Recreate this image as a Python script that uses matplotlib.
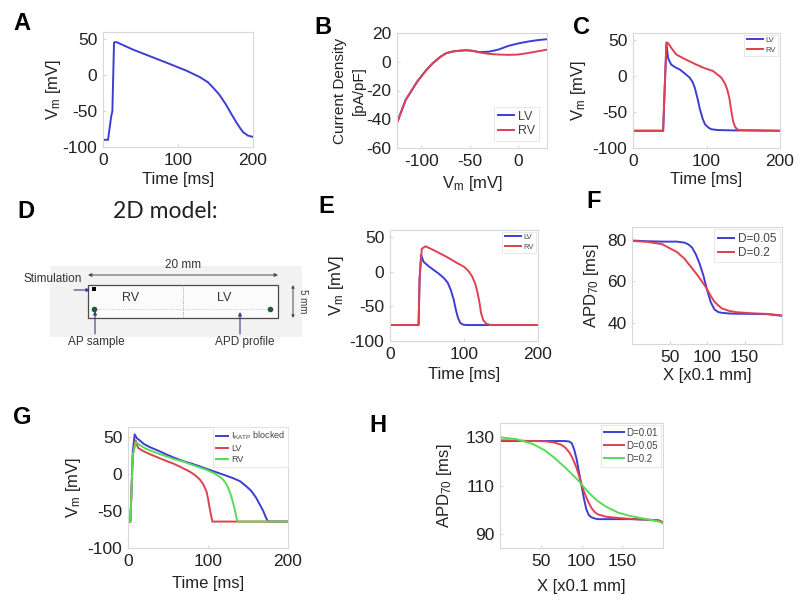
import matplotlib
matplotlib.use("Agg")
import matplotlib.pyplot as plt
from matplotlib.patches import Rectangle

plt.rcParams['font.family'] = ['Liberation Sans', 'DejaVu Sans']
plt.rcParams['mathtext.fontset'] = 'custom'
plt.rcParams['mathtext.rm'] = 'Liberation Sans'
plt.rcParams['mathtext.it'] = 'Liberation Sans:italic'
plt.rcParams['mathtext.bf'] = 'Liberation Sans:bold'
plt.rcParams['axes.unicode_minus'] = False

# ---------------- data ----------------
# A: single action potential
a_t = [0, 6.7, 11, 12.5, 14.7, 17.8, 40, 84, 111, 129, 140, 147, 155, 164, 170, 178, 183, 187, 193, 200]
a_v = [-90, -90, -57, -50, 45.5, 46, 35.5, 17.6, 6.3, -2.7, -10, -17.6, -27, -41, -52, -66, -74, -79.5, -84, -86]

# B: I-V curves
b_v = [-125, -116, -104, -95, -88, -80, -74, -67, -60, -53, -46, -40, -30, -20, -10, 0, 10, 20, 30]
b_lv = [-42.5, -26.5, -13.7, -6, -1, 3.5, 6, 7.2, 7.7, 8, 7.5, 6.7, 7, 8.5, 11, 12.7, 14, 15, 15.7]
b_rv = [-42.5, -26.5, -13.7, -6, -1, 3.5, 6, 7.2, 7.7, 8, 7.5, 6.5, 5.5, 5, 4.8, 5, 6, 7.2, 8.4]

# C: single-cell LV / RV action potentials
c_lv_t = [0, 41, 43, 45.5, 47.7, 52, 58, 64, 70, 77, 81, 84, 88, 91, 95, 98, 103, 107, 115, 136, 200]
c_lv_v = [-76, -76, -20, 45, 25, 16, 12, 9, 4, -2, -8, -16, -32, -46, -60, -67, -72, -74, -75, -75.5, -76]
c_rv_t = [0, 41, 43, 45.5, 47.7, 53, 59, 70, 82, 95, 109, 120, 125, 128, 131, 134, 136, 139, 142, 145, 200]
c_rv_v = [-76, -76, -20, 47, 46, 38, 30, 24, 18, 12, 7, -2, -10, -18, -30, -50, -62, -71, -74, -75, -76]

# E: tissue LV / RV action potentials
e_lv_t = [0, 38.6, 40, 42, 45.5, 52, 59, 66, 73, 78, 82, 86, 89, 92, 95, 99, 104, 200]
e_lv_v = [-77, -77, -10, 24, 14, 8, 2.4, -3, -9.5, -16, -26, -40, -55, -67, -74, -76.5, -77, -77]
e_rv_t = [0, 38.6, 40, 43, 48, 59, 68, 77, 88, 100, 106, 111, 115, 118, 121, 123, 126, 130, 136, 200]
e_rv_v = [-77, -77, -10, 33, 36.5, 31, 26, 21, 14, 7, 1, -7, -17, -28.6, -45, -59.5, -70, -75, -77, -77]

# F: APD70 profile
f_x = [1, 20, 40, 60, 70, 75, 80, 85, 90, 95, 100, 105, 110, 115, 120, 130, 140, 160, 180, 200]
f_d005 = [79.5, 79.2, 79, 79, 78.5, 77.7, 76.2, 73, 68.6, 63, 56, 50, 46.5, 45.3, 44.9, 44.6, 44.5, 44.4, 44.3, 43.5]
f_d02 = [79.3, 78.9, 77.8, 74, 70.8, 68.5, 66.3, 64, 61.6, 59, 56.3, 53, 50.2, 48.5, 47, 45.8, 45.2, 44.7, 44.4, 43.7]
f_labels = ['D=0.05', 'D=0.2']

# G: action potentials with I_KATP block
g_blk_t = [0, 3, 6, 8.3, 11, 14.6, 20, 27, 38, 48, 58, 69, 80, 90, 100, 110, 120, 131, 140, 148, 154, 160, 165, 169, 172, 175, 200]
g_blk_v = [-64.4, -64.4, 30, 53, 48, 45, 40, 36, 31, 26, 21.5, 17, 13.5, 9.8, 6, 2.2, -1.5, -5.8, -10, -17, -23, -32, -42, -50, -58, -64.4, -64.4]
g_lv_t = [0, 3, 6, 9.6, 12.5, 18.8, 27, 35, 45, 56, 66, 77, 84, 90, 94, 98, 100, 102, 104, 105.5, 200]
g_lv_v = [-64.4, -64.4, 25, 45, 35, 30.7, 26.5, 23, 18.5, 14, 9, 3, -2, -8, -14, -23.6, -33, -46, -57, -64.4, -64.4]
g_rv_t = [0, 3, 6, 9.6, 14.6, 22, 31, 45, 57, 69, 83, 98, 108, 114, 119, 123, 127, 130, 133, 135, 136.5, 200]
g_rv_v = [-64.4, -64.4, 25, 43, 38.7, 34, 30, 24.5, 20, 16.4, 11, 5.3, 0.5, -3.5, -8, -14, -23.6, -34, -46, -56, -64.4, -64.4]
g_labels = ['I$_{\\mathrm{KATP}}$ blocked', 'LV', 'RV']

# H: APD70 profile with three diffusion values
h_x = [1, 20, 40, 55, 65, 75, 80, 85, 88, 91, 94, 97, 100, 103, 106, 109, 112, 116, 120, 130, 145, 160, 180, 195, 200]
h_d001 = [128.5, 128.5, 128.5, 128.5, 128.5, 128.5, 128.5, 128.3, 127.6, 125, 121, 115.4, 110, 104.5, 100, 97.7, 96.8, 96.3, 96, 96, 96, 96, 95.8, 95.5, 94.3]
h_d005 = [128.8, 128.7, 128.5, 128.4, 128, 127, 125.8, 123.8, 122, 119.8, 117.2, 114, 110.5, 107.5, 105, 102.7, 100.8, 99, 98, 97, 96.5, 96.1, 95.8, 95.4, 94.8]
h_d02 = [130, 129.3, 127.3, 124.6, 122, 119, 117.5, 115.8, 114.8, 113.8, 112.8, 111.7, 110.5, 109.3, 108.2, 107, 106, 104.7, 103.5, 101.2, 98.7, 97.3, 96, 95, 94.3]
h_labels = ['D=0.01', 'D=0.05', 'D=0.2']

# ---------------- figure ----------------
W, H = 800, 609
BLUE = '#3d3dd6'
RED = '#e0404f'
GREEN = '#55dd55'
BOX = '#d8d8d8'
TXT = '#222222'
LW = 1.4

fig = plt.figure(figsize=(8, 6.09), dpi=100)

# overlay in pixel coordinates for the schematic (panel D)
bg = fig.add_axes([0, 0, 1, 1], zorder=-1)
bg.set_xlim(0, W)
bg.set_ylim(H, 0)
bg.axis('off')


def px_axes(left, top, right, bottom):
    ax = fig.add_axes([left / W, 1 - bottom / H, (right - left) / W, (bottom - top) / H])
    for s in ax.spines.values():
        s.set_color(BOX)
        s.set_linewidth(0.8)
    ax.tick_params(length=2, direction='in', color=BOX, labelsize=12.5,
                   labelcolor=TXT, pad=4)
    ax.box = (left, top, right, bottom)
    return ax


def labels(ax, xlabel, ylabel, ylab_right, xlab_top, ysize=12):
    left, top, right, bottom = ax.box
    ax.set_xlabel(xlabel, fontsize=12, color=TXT)
    ax.set_ylabel(ylabel, fontsize=ysize, color=TXT, linespacing=1.45)
    ax.yaxis.set_label_coords((ylab_right - left) / (right - left), 0.5)
    ax.xaxis.set_label_coords(0.5, -(xlab_top - bottom) / (bottom - top))


def legend(ax, size, pad=0.2, **kw):
    leg = ax.legend(fontsize=size, fancybox=False, framealpha=1, edgecolor='#e4e4e4',
                    borderpad=0.3, handletextpad=0.3, borderaxespad=pad, **kw)
    leg.get_frame().set_linewidth(0.6)
    for t in leg.get_texts():
        t.set_color('#444444')
    return leg


def letter(x, y, s):
    fig.text(x / W, 1 - y / H, s, fontsize=17, fontweight='bold', ha='center', va='center')


VM = 'V$_{\\mathrm{m}}$ [mV]'
APD = 'APD$_{70}$ [ms]'

# A
ax = px_axes(103, 32, 253, 147)
ax.plot(a_t, a_v, color=BLUE, lw=LW)
ax.set_xlim(0, 200)
ax.set_ylim(-100, 60)
ax.set_xticks([0, 100, 200])
ax.set_yticks([-100, -50, 0, 50])
labels(ax, 'Time [ms]', VM, 63, 172)

# B
ax = px_axes(397, 33, 547, 148)
ax.plot(b_v, b_lv, color=BLUE, lw=LW, label='LV')
ax.plot(b_v, b_rv, color=RED, lw=LW, label='RV')
ax.set_xlim(-125, 30)
ax.set_ylim(-60, 20)
ax.set_xticks([-100, -50, 0])
ax.set_yticks([-60, -40, -20, 0, 20])
labels(ax, VM, 'Current Density\n[pA/pF]', 366, 174, ysize=11)
legend(ax, 9, loc='lower right', bbox_to_anchor=(0.96, 0.04), handlelength=1.3,
       labelspacing=0.2)

# C
ax = px_axes(633, 33, 780, 148)
ax.plot(c_lv_t, c_lv_v, color=BLUE, lw=LW, label='LV')
ax.plot(c_rv_t, c_rv_v, color=RED, lw=LW, label='RV')
ax.set_xlim(0, 200)
ax.set_ylim(-100, 60)
ax.set_xticks([0, 100, 200])
ax.set_yticks([-100, -50, 0, 50])
labels(ax, 'Time [ms]', VM, 588, 172)
legend(ax, 5.5, loc='upper right', handlelength=2.2, labelspacing=0.3)

# E
ax = px_axes(390, 230, 538, 341)
ax.plot(e_lv_t, e_lv_v, color=BLUE, lw=LW, label='LV')
ax.plot(e_rv_t, e_rv_v, color=RED, lw=LW, label='RV')
ax.set_xlim(0, 200)
ax.set_ylim(-100, 60)
ax.set_xticks([0, 100, 200])
ax.set_yticks([-100, -50, 0, 50])
labels(ax, 'Time [ms]', VM, 346, 367)
legend(ax, 5.5, loc='upper right', handlelength=2.2, labelspacing=0.3)

# F
ax = px_axes(632, 227, 782, 344)
ax.plot(f_x, f_d005, color=BLUE, lw=LW, label=f_labels[0])
ax.plot(f_x, f_d02, color=RED, lw=LW, label=f_labels[1])
ax.set_xlim(0, 200)
ax.set_ylim(30, 86)
ax.set_xticks([50, 100, 150])
ax.set_yticks([40, 60, 80])
labels(ax, 'X [x0.1 mm]', APD, 601, 368)
legend(ax, 8.5, loc='upper right', handlelength=1.4, labelspacing=0.15)

# G
ax = px_axes(128, 427, 288, 548)
ax.plot(g_blk_t, g_blk_v, color=BLUE, lw=LW, label=g_labels[0])
ax.plot(g_lv_t, g_lv_v, color=RED, lw=LW, label=g_labels[1])
ax.plot(g_rv_t, g_rv_v, color=GREEN, lw=LW, label=g_labels[2])
ax.set_xlim(0, 200)
ax.set_ylim(-100, 63)
ax.set_xticks([0, 100, 200])
ax.set_yticks([-100, -50, 0, 50])
labels(ax, 'Time [ms]', VM, 83, 576)
legend(ax, 6.5, pad=0, loc='upper right', bbox_to_anchor=(1.0, 1.0),
       handlelength=1.4, labelspacing=0.2)

# H
ax = px_axes(500, 423, 663, 548)
ax.plot(h_x, h_d001, color=BLUE, lw=LW, label=h_labels[0])
ax.plot(h_x, h_d005, color=RED, lw=LW, label=h_labels[1])
ax.plot(h_x, h_d02, color=GREEN, lw=LW, label=h_labels[2])
ax.set_xlim(0, 200)
ax.set_ylim(84, 136)
ax.set_xticks([50, 100, 150])
ax.set_yticks([90, 110, 130])
labels(ax, 'X [x0.1 mm]', APD, 454, 579)
legend(ax, 7, loc='upper right', handlelength=2.0, labelspacing=0.3)

# ---------------- D: 2D model schematic ----------------
dk = '#4a4a4a'
arrow_c = '#3a3a8a'
bg.add_patch(Rectangle((50, 266), 252, 71, facecolor='#f2f2f2', edgecolor='none'))
bg.add_patch(Rectangle((88, 285), 190, 33, facecolor='#fbfbfb', edgecolor=dk, lw=0.9))
bg.plot([183, 183], [285, 318], color='#888888', lw=0.6, ls=':')
bg.plot([94, 270], [309, 309], color='#bbbbbb', lw=0.6, ls=':')
bg.annotate('', xy=(88, 275), xytext=(278, 275),
            arrowprops=dict(arrowstyle='<|-|>', color=dk, lw=0.7, mutation_scale=5,
                            shrinkA=0, shrinkB=0))
bg.text(183, 271, '20 mm', fontsize=8.5, ha='center', va='bottom', color='#333333')
bg.annotate('', xy=(293, 285), xytext=(293, 318),
            arrowprops=dict(arrowstyle='<|-|>', color=dk, lw=0.7, mutation_scale=4,
                            shrinkA=0, shrinkB=0))
bg.text(298, 301, '5 mm', fontsize=7, ha='left', va='center', rotation=270, color='#333333')
bg.text(82, 279, 'Stimulation', fontsize=8.5, ha='right', va='center', color='#333333')
bg.annotate('', xy=(90, 290), xytext=(74, 290),
            arrowprops=dict(arrowstyle='-|>', color=arrow_c, lw=0.8, mutation_scale=5,
                            shrinkA=0, shrinkB=0))
bg.add_patch(Rectangle((92, 287), 4, 4, facecolor='black', edgecolor='none'))
bg.plot([94, 270], [309, 309], ls='none', marker='o', ms=3, color='#1f5f2f')
bg.text(131, 298, 'RV', fontsize=9, ha='center', va='center', color='#333333')
bg.text(224, 298, 'LV', fontsize=9, ha='center', va='center', color='#333333')
bg.annotate('', xy=(95, 311), xytext=(95, 334),
            arrowprops=dict(arrowstyle='-|>', color=arrow_c, lw=0.8, mutation_scale=5,
                            shrinkA=0, shrinkB=0))
bg.annotate('', xy=(240, 312), xytext=(240, 334),
            arrowprops=dict(arrowstyle='-|>', color=arrow_c, lw=0.8, mutation_scale=5,
                            shrinkA=0, shrinkB=0))
bg.text(96, 342, 'AP sample', fontsize=8.5, ha='center', va='center', color='#333333')
bg.text(245, 342, 'APD profile', fontsize=8.5, ha='center', va='center', color='#333333')
fig.text(165 / W, 1 - 212 / H, '2D model:', fontsize=16.5, family=['Lato', 'DejaVu Sans'],
         ha='center', va='center', color='#222222')

# panel letters
letter(22, 23, 'A')
letter(323, 27, 'B')
letter(582, 27, 'C')
letter(26, 212, 'D')
letter(326, 207, 'E')
letter(594, 202, 'F')
letter(22, 417, 'G')
letter(378, 425, 'H')

fig.savefig('out.png', dpi=100)
